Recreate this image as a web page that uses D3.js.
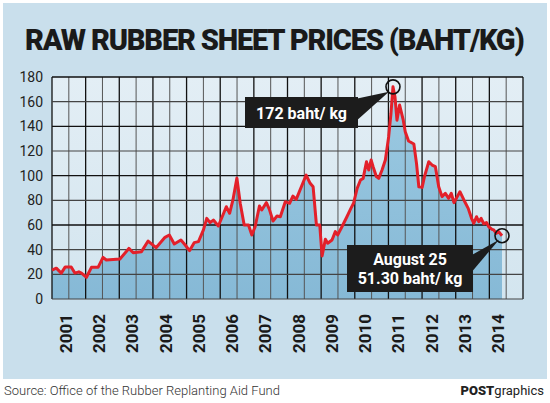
<!DOCTYPE html>
<html><head><meta charset="utf-8">
<script src="https://cdn.jsdelivr.net/npm/d3@7"></script>
<style>body{margin:0;background:#fff}svg{display:block}</style>
</head><body><svg id="c" width="550" height="403"></svg>
<script>
// time as decimal years
const times = [2001.00,2001.13,2001.28,2001.40,2001.58,2001.69,2001.81,2001.89,2002.04,2002.19,2002.39,2002.54,2002.64,2003.05,2003.32,2003.45,2003.70,2003.90,2004.14,2004.41,2004.54,2004.69,2004.89,2005.02,2005.15,2005.29,2005.42,2005.57,2005.67,2005.77,2005.87,2006.02,2006.18,2006.26,2006.36,2006.46,2006.58,2006.68,2006.80,2006.93,2007.03,2007.13,2007.26,2007.33,2007.47,2007.56,2007.67,2007.79,2007.89,2008.04,2008.17,2008.27,2008.37,2008.67,2008.79,2008.88,2008.98,2009.08,2009.15,2009.25,2009.32,2009.45,2009.55,2009.62,2009.75,2009.90,2010.02,2010.10,2010.21,2010.31,2010.39,2010.49,2010.56,2010.63,2010.69,2010.79,2010.86,2010.96,2011.06,2011.16,2011.23,2011.29,2011.35,2011.41,2011.49,2011.60,2011.66,2011.76,2011.92,2012.00,2012.07,2012.17,2012.24,2012.37,2012.47,2012.57,2012.67,2012.77,2012.87,2012.97,2013.05,2013.13,2013.23,2013.31,2013.43,2013.56,2013.66,2013.73,2013.81,2013.88,2013.95,2014.03,2014.11,2014.18,2014.28,2014.33,2014.41,2014.48,2014.58];
const prices = [23.5,25,21,26,26,21,22,21,17.6,25.7,25.7,33.8,31.6,32.4,41,37.5,38.4,47,41.6,50,51.9,44.6,47.8,43.8,39.2,45.7,46.5,56,65.4,61.9,64,59.2,69.5,74.8,69.5,80.3,98,77.6,60,60,51.9,58.6,75.4,72.2,78.1,72.7,63.2,67.3,66.7,78.9,77.6,83.5,80.8,100.5,93.8,91,60,60,34.9,48.5,45.2,47.8,54.6,51.9,58.6,66.7,73.5,77.6,89.8,96.5,97.8,111.3,104.6,112.7,107.3,99.2,97.8,104.6,112.7,131.6,150.6,172,164,145,157.3,145,135.7,128.1,125.7,110,91,90.5,99.2,111.3,108.6,107.3,91,83,85.7,81.6,85.7,78.1,83,87,80.3,73.5,65.4,61.4,66.7,62.7,65.4,61,62,58.6,56.5,56,53.2,54.6,51.3];
const yTicks = [0,20,40,60,80,100,120,140,160,180];
const yearLabels = ["2001","2002","2003","2004","2005","2006","2007","2008","2009","2010","2011","2012","2013","2014"];
const titleText = "RAW RUBBER SHEET PRICES (BAHT/KG)";
const sourceText = "Source: Office of the Rubber Replanting Aid Fund";
const peakLabel = "172 baht/ kg";
const endLabel = ["August 25", "51.30 baht/ kg"];

const svg = d3.select("#c");
const L = 52, R = 523, T = 77, B = 299;

// backgrounds
svg.append("rect").attr("width",550).attr("height",403).attr("fill","#fff");
svg.append("rect").attr("x",3).attr("y",3).attr("width",544).attr("height",376).attr("fill","#c9dfec");
const defs = svg.append("defs");
const g1 = defs.append("linearGradient").attr("id","pbg").attr("x1",0).attr("y1",0).attr("x2",0).attr("y2",1);
g1.append("stop").attr("offset","0%").attr("stop-color","#e3eef5");
g1.append("stop").attr("offset","100%").attr("stop-color","#d3e5ef");
svg.append("rect").attr("x",L).attr("y",T).attr("width",R-L).attr("height",B-T).attr("fill","url(#pbg)");

// title: fit to width by font-size / letter-spacing
const title = svg.append("text").attr("x",25).attr("y",50).text(titleText)
  .attr("font-family","Roboto, 'DejaVu Sans', sans-serif").attr("font-weight",900)
  .attr("font-size",32).attr("fill","#1a1a1a");
{
  const target = 500;
  let len = title.node().getComputedTextLength();
  let ls = (target - len) / (titleText.length - 1);
  if (ls < -1.2) {
    const fs = 32 * (target + 1.2*(titleText.length-1)) / len;
    title.attr("font-size", fs);
    ls = -1.2;
  }
  title.attr("letter-spacing", ls);
}

const x = d3.scaleLinear().domain([2001, 2014.58]).range([L, 502]);
const y = d3.scaleLinear().domain([0,180]).range([B, T]);
const gx = d3.scaleLinear().domain([0,28]).range([L, R]);

const data = times.map((t,i)=>({t, v: prices[i]}));

// area fill
const g2 = defs.append("linearGradient").attr("id","fill").attr("x1",0).attr("y1",0).attr("x2",0).attr("y2",1);
g2.append("stop").attr("offset","0%").attr("stop-color","#9ccae2");
g2.append("stop").attr("offset","100%").attr("stop-color","#86b9d6");
svg.append("path").datum(data)
  .attr("d", d3.area().x(d=>x(d.t)).y0(B).y1(d=>y(d.v)))
  .attr("fill","url(#fill)");

// grid
const grid = svg.append("g");
grid.selectAll("line.v").data(d3.range(0,29)).join("line")
  .attr("x1",d=>gx(d)).attr("x2",d=>gx(d)).attr("y1",T).attr("y2",B)
  .attr("stroke",d=>d%2===0?"#111":"#555").attr("stroke-width",d=>d%2===0?1.3:1);
grid.selectAll("line.h").data(yTicks).join("line")
  .attr("x1",L).attr("x2",R).attr("y1",d=>y(d)).attr("y2",d=>y(d))
  .attr("stroke",d=>(d===60||d===100||d===140||d===180)?"#111":"#444")
  .attr("stroke-width",d=>(d===60||d===100||d===140||d===180)?1.3:1.1);

// y axis
const ya = svg.append("g").attr("transform",`translate(${L},0)`)
  .call(d3.axisLeft(y).tickValues(yTicks).tickSize(0).tickPadding(9));
ya.select(".domain").remove();
ya.selectAll("text").attr("font-family","Roboto, sans-serif").attr("font-size",14).attr("fill","#222");

// x labels
const xl = d3.scalePoint().domain(yearLabels).range([72, 504]);
svg.append("g").selectAll("text").data(yearLabels).join("text")
  .attr("transform",d=>`translate(${xl(d)},314) rotate(-90)`)
  .attr("text-anchor","end")
  .attr("font-family","Roboto, sans-serif").attr("font-weight",700).attr("font-size",17)
  .attr("fill","#1a1a1a").text(d=>d);

// line
svg.append("path").datum(data)
  .attr("d", d3.line().x(d=>x(d.t)).y(d=>y(d.v)))
  .attr("fill","none").attr("stroke","#e3202a").attr("stroke-width",3)
  .attr("stroke-linejoin","round");

// annotations
const peak = data[d3.maxIndex(data,d=>d.v)];
const last = data[data.length-1];
const px = x(peak.t), py = y(peak.v), ex = x(last.t), ey = y(last.v);

svg.append("path").attr("d",`M355,99 L355,122 L${px-4},${py+5} Z`).attr("fill","#1c1c1c");
svg.append("rect").attr("x",245).attr("y",97).attr("width",113).attr("height",31).attr("fill","#1c1c1c");
svg.append("text").attr("x",301.5).attr("y",118.5).attr("text-anchor","middle").text(peakLabel)
  .attr("font-family","Roboto, sans-serif").attr("font-weight",700).attr("font-size",16).attr("fill","#fff");
svg.append("circle").attr("cx",px).attr("cy",py).attr("r",7).attr("fill","none").attr("stroke","#111").attr("stroke-width",1.6);

svg.append("path").attr("d",`M470,256 L470,274 L${ex-3},${ey+4} Z`).attr("fill","#1c1c1c");
svg.append("rect").attr("x",347).attr("y",245).attr("width",126).attr("height",47).attr("fill","#1c1c1c");
svg.append("text").attr("x",410).attr("y",265).attr("text-anchor","middle").text(endLabel[0])
  .attr("font-family","Roboto, sans-serif").attr("font-weight",700).attr("font-size",16).attr("fill","#fff");
svg.append("text").attr("x",410).attr("y",284).attr("text-anchor","middle").text(endLabel[1])
  .attr("font-family","Roboto, sans-serif").attr("font-weight",700).attr("font-size",16).attr("fill","#fff");
svg.append("circle").attr("cx",ex).attr("cy",ey).attr("r",7).attr("fill","none").attr("stroke","#111").attr("stroke-width",1.6);

// footer
svg.append("text").attr("x",4).attr("y",395).text(sourceText)
  .attr("font-family","Roboto, sans-serif").attr("font-weight",300).attr("font-size",13).attr("fill","#333");
const pg = svg.append("text").attr("x",544).attr("y",395).attr("text-anchor","end")
  .attr("font-family","Roboto, sans-serif").attr("font-size",13).attr("fill","#222");
pg.append("tspan").attr("font-weight",900).text("POST");
pg.append("tspan").attr("font-weight",400).text("graphics");
</script></body></html>
